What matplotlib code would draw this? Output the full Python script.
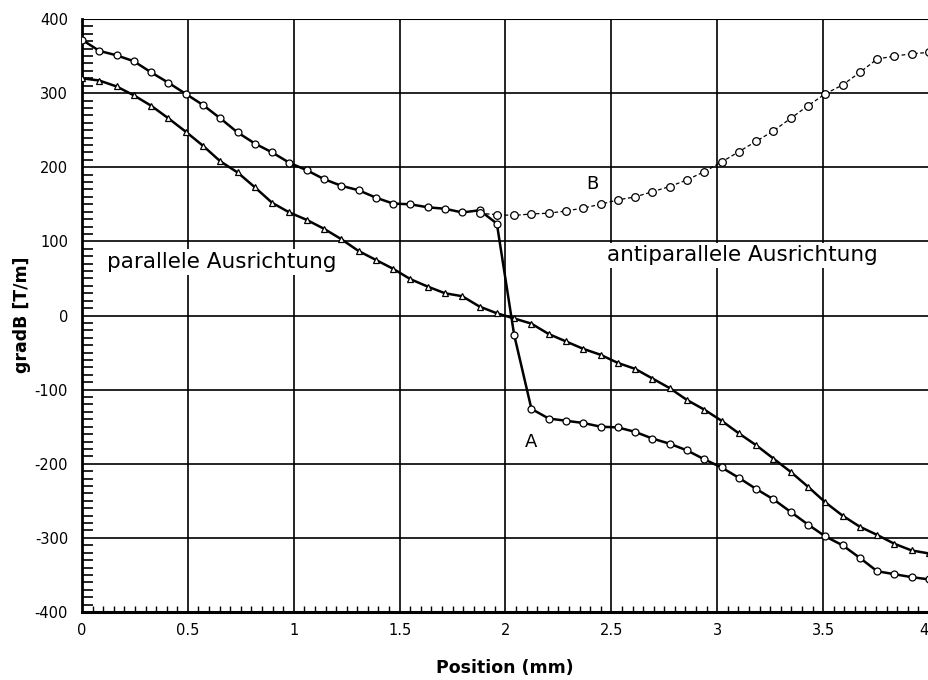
import numpy as np
import matplotlib
matplotlib.use("Agg")
import matplotlib.pyplot as plt
from matplotlib.ticker import MultipleLocator

plt.rcParams['font.family'] = ['DejaVu Sans']
plt.rcParams['axes.unicode_minus'] = False

# positions of the measured points (mm), 50 equally spaced samples
position = np.linspace(0, 4, 50)

# parallel alignment (triangles)
grad_parallel = [320, 317, 309, 297, 283, 266, 248, 229, 208, 193,
                 173, 152, 139, 129, 117, 103, 87, 75, 63, 49,
                 39, 30, 26, 12, 3, -4, -11, -25, -35, -45,
                 -53, -64, -72, -85, -98, -114, -127, -142, -159, -175,
                 -193, -211, -231, -252, -270, -285, -296, -308, -317, -321]

# curve A (circles, solid)
grad_a = [372, 357, 351, 343, 328, 314, 299, 284, 266, 247,
          232, 220, 206, 196, 184, 175, 169, 159, 151, 150,
          146, 144, 139, 142, 124, -26, -126, -139, -142, -145,
          -150, -151, -157, -166, -173, -182, -194, -205, -219, -234,
          -248, -265, -282, -298, -310, -327, -345, -349, -353, -356]

# curve B (circles, dashed) starts at sample 23
b_start = 23
grad_b = [138, 136, 135, 137, 138, 141, 145, 150, 156, 160,
          167, 174, 183, 194, 207, 221, 235, 249, 266, 283,
          299, 311, 328, 346, 350, 353, 355]

x_ticks = [0, 0.5, 1, 1.5, 2, 2.5, 3, 3.5, 4]
x_labels = ['0', '0.5', '1', '1.5', '2', '2.5', '3', '3.5', '4']
y_ticks = [-400, -300, -200, -100, 0, 100, 200, 300, 400]

fig = plt.figure(figsize=(9.29, 6.80), dpi=100)
ax = fig.add_axes([82 / 929, 1 - 612 / 680, 847 / 929, 593 / 680])

ax.plot(position, grad_parallel, color='black', lw=1.8,
        marker='^', ms=5, mfc='white', mec='black', mew=0.9, zorder=3)
ax.plot(position, grad_a, color='black', lw=1.8,
        marker='o', ms=5, mfc='white', mec='black', mew=0.9, zorder=3)
ax.plot(position[b_start:b_start + len(grad_b)], grad_b, color='black',
        lw=0.9, dashes=(3, 2), marker='o', ms=5.5, mfc='white',
        mec='black', mew=0.9, zorder=3)

ax.set_xlim(0, 4)
ax.set_ylim(-400, 400)
ax.set_xticks(x_ticks)
ax.set_xticklabels(x_labels)
ax.set_yticks(y_ticks)
ax.xaxis.set_minor_locator(MultipleLocator(0.05))
ax.yaxis.set_minor_locator(MultipleLocator(10))
ax.tick_params(axis='both', which='major', length=0, labelsize=10.5)
ax.tick_params(axis='x', which='major', pad=8)
ax.tick_params(axis='y', which='major', pad=10)
ax.tick_params(axis='x', which='minor', direction='in', length=4, width=1)
ax.tick_params(axis='y', which='minor', direction='in', length=8, width=1.2)
# the last label sits on the figure edge: keep it inside
ax.get_xticklabels()[-1].set_horizontalalignment('right')

ax.grid(True, which='major', color='black', lw=1.2)
for side in ('top', 'right'):
    ax.spines[side].set_visible(False)
ax.spines['left'].set_linewidth(2)
ax.spines['bottom'].set_linewidth(2.2)
ax.axhline(400, color='black', lw=1.5)

box = dict(facecolor='white', edgecolor='none', pad=2)
ax.text(0.118, 72, 'parallele Ausrichtung', fontsize=15.5, va='center',
        ha='left', bbox=box, zorder=4)
ax.text(2.48, 81, 'antiparallele Ausrichtung', fontsize=15.5, va='center',
        ha='left', bbox=box, zorder=4)
ax.text(2.41, 177, 'B', fontsize=13, ha='center', va='center')
ax.text(2.12, -170, 'A', fontsize=13, ha='center', va='center')

fig.text(505 / 929, 1 - 668 / 680, 'Position (mm)', fontsize=12.5,
         fontweight='bold', ha='center', va='center')
fig.text(22 / 929, 1 - 315 / 680, 'gradB [T/m]', fontsize=12.5,
         fontweight='bold', ha='center', va='center', rotation=90)

fig.savefig('out.png', dpi=100)
